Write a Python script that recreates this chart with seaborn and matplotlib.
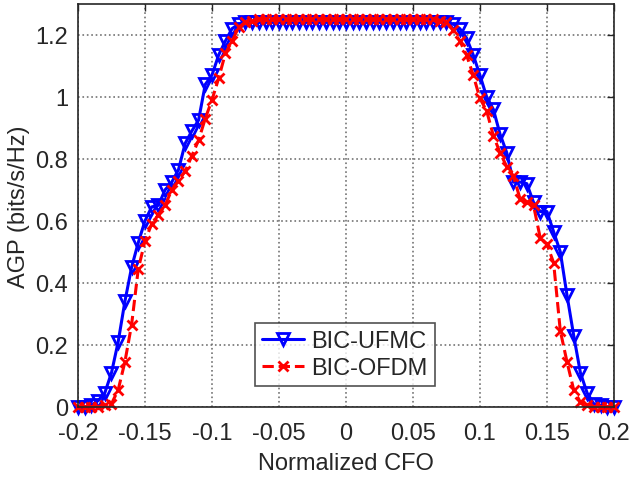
import matplotlib
matplotlib.use("Agg")
import matplotlib.pyplot as plt
import numpy as np
import pandas as pd
import seaborn as sns

# normalized CFO grid, -0.2 .. 0.2 in steps of 0.005 (81 points)
cfo = [round(-0.2 + 0.005 * i, 3) for i in range(81)]

# values, left slope / plateau / right slope
ufmc_left = [0.0, 0.0, 0.005, 0.02, 0.045, 0.11, 0.21, 0.34, 0.45, 0.53,
             0.60, 0.645, 0.65, 0.70, 0.725, 0.765, 0.85, 0.89, 0.925, 1.04,
             1.07, 1.135, 1.18, 1.22, 1.235, 1.24]
ufmc_mid = [1.24] * 29
ufmc_right = [1.24, 1.235, 1.22, 1.19, 1.135, 1.07, 1.0, 0.96, 0.88, 0.82,
              0.725, 0.725, 0.72, 0.66, 0.63, 0.63, 0.565, 0.50, 0.36, 0.23,
              0.11, 0.045, 0.01, 0.005, 0.0, 0.0]
ufmc = ufmc_left + ufmc_mid + ufmc_right

ofdm_left = [0.0, 0.0, 0.0, 0.0, 0.005, 0.01, 0.055, 0.145, 0.265, 0.445,
             0.535, 0.59, 0.62, 0.65, 0.70, 0.73, 0.76, 0.81, 0.86, 0.93,
             0.99, 1.06, 1.14, 1.18, 1.225, 1.24, 1.245]
ofdm_mid = [1.25] * 27
ofdm_right = [1.245, 1.24, 1.215, 1.18, 1.135, 1.07, 0.995, 0.955, 0.875, 0.82,
              0.775, 0.745, 0.67, 0.66, 0.65, 0.545, 0.525, 0.465, 0.245, 0.145,
              0.055, 0.015, 0.005, 0.0, 0.0, 0.0, 0.0]
ofdm = ofdm_left + ofdm_mid + ofdm_right

xticks = [-0.2, -0.15, -0.1, -0.05, 0, 0.05, 0.1, 0.15, 0.2]
xtick_labels = ["-0.2", "-0.15", "-0.1", "-0.05", "0", "0.05", "0.1", "0.15", "0.2"]
yticks = [0, 0.2, 0.4, 0.6, 0.8, 1.0, 1.2]
ytick_labels = ["0", "0.2", "0.4", "0.6", "0.8", "1", "1.2"]

sns.set_theme(style="white")
plt.rcParams["font.family"] = ["Liberation Sans", "DejaVu Sans"]

df = pd.DataFrame({"cfo": cfo, "BIC-UFMC": ufmc, "BIC-OFDM": ofdm})

fig = plt.figure(figsize=(6.29, 4.81), dpi=100)
ax = fig.add_axes([0.124, 0.152, 0.852, 0.838])

sns.lineplot(data=df, x="cfo", y="BIC-UFMC", ax=ax, color="blue", lw=2.2,
             marker="v", markersize=8, markerfacecolor="none",
             markeredgecolor="blue", markeredgewidth=2, clip_on=False,
             label="BIC-UFMC")
sns.lineplot(data=df, x="cfo", y="BIC-OFDM", ax=ax, color="red", lw=2.2,
             ls="--", marker="x", markersize=7, markeredgecolor="red",
             markeredgewidth=2, clip_on=False, label="BIC-OFDM")

ax.set_xlim(-0.2, 0.2)
ax.set_ylim(0, 1.3)
ax.set_xticks(xticks)
ax.set_xticklabels(xtick_labels)
ax.set_yticks(yticks)
ax.set_yticklabels(ytick_labels)
ax.set_xlabel("Normalized CFO", fontsize=17, color="#262626", labelpad=6)
ax.set_ylabel("AGP (bits/s/Hz)", fontsize=17, color="#262626", labelpad=4)
ax.tick_params(direction="in", top=True, right=True, length=5, width=1,
               labelsize=17, labelcolor="#262626")
ax.tick_params(axis="x", pad=11)
ax.tick_params(axis="y", pad=7)
ax.grid(True, ls=":", color="0.45", lw=1.2)
for s in ax.spines.values():
    s.set_color("#262626"); s.set_linewidth(1.2)

leg = ax.legend(loc="lower left", bbox_to_anchor=(0.33, 0.052),
                borderaxespad=0, fontsize=17, frameon=True, fancybox=False,
                handlelength=1.8, handletextpad=0.3, labelspacing=0.2,
                borderpad=0.3)
leg.get_frame().set_edgecolor("#262626")
leg.get_frame().set_linewidth(1.2)

fig.savefig("out.png", dpi=100)
